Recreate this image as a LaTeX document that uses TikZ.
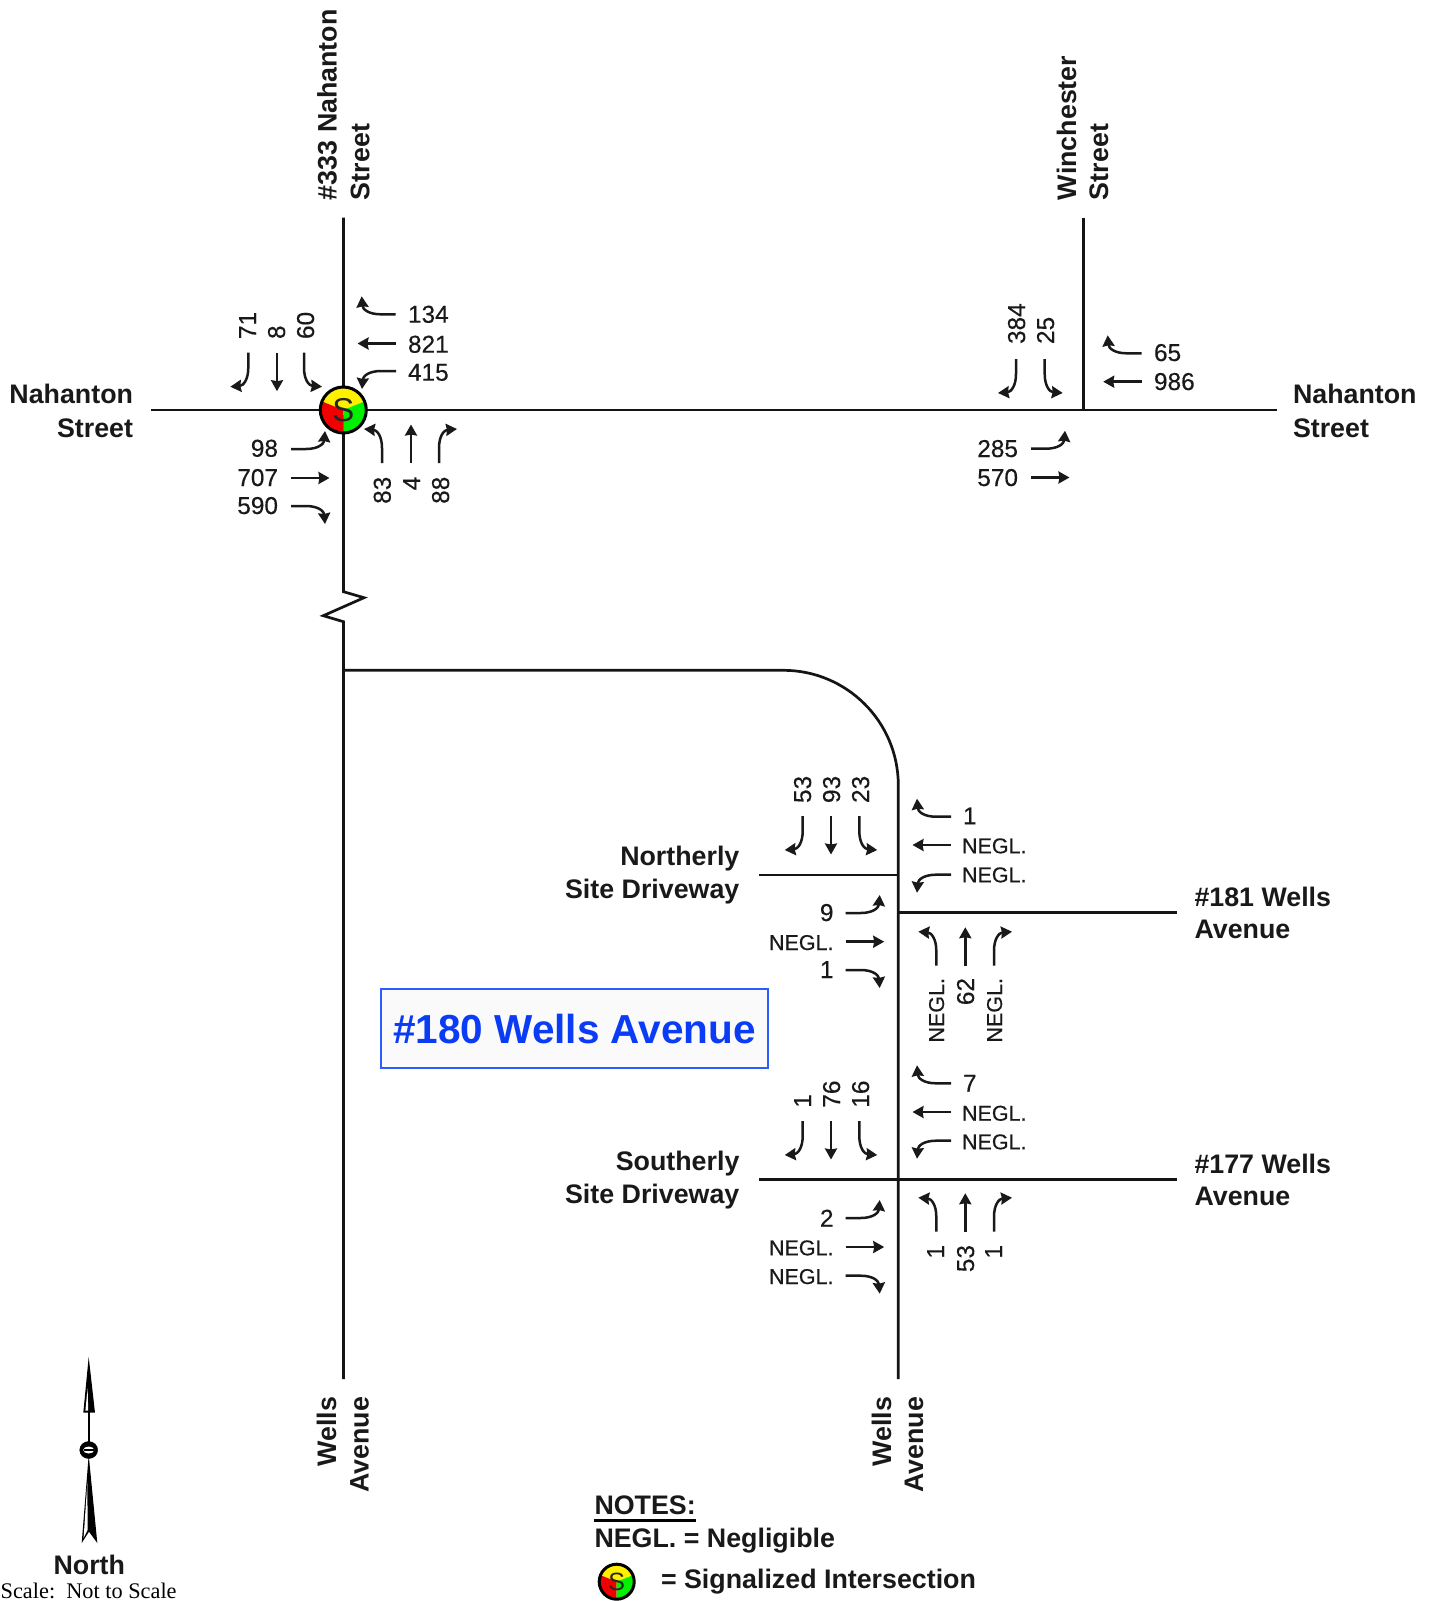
\documentclass[tikz,border=0pt]{standalone}
\usepackage{fontspec}
\setmainfont{Liberation Sans}
\newfontfamily\scalefamily{Liberation Serif}
\newfontfamily\volfamily[FakeBold=0.35]{Liberation Sans}
\usetikzlibrary{arrows.meta}
\definecolor{boxblue}{HTML}{2A5CFF}
\definecolor{textblue}{HTML}{0A3CF5}
\definecolor{sigred}{HTML}{F20000}
\definecolor{siggreen}{HTML}{00F000}
\definecolor{sigyellow}{HTML}{FFF000}
\tikzset{
  road/.style={line width=2.7pt,draw=black!92},
  flow/.style={line width=2.5pt,draw=black!90,-{Stealth[length=11pt,width=12pt,inset=1pt]}},
  vol/.style={inner sep=0pt,outer sep=0pt,font=\volfamily\fontsize{24.4}{28}\selectfont,text=black!90},
  neg/.style={inner sep=0pt,outer sep=0pt,font=\volfamily\fontsize{21.5}{26}\selectfont,text=black!90},
  volw/.style={vol,anchor=base west},
  vole/.style={vol,anchor=base east},
  volu/.style={vol,rotate=90,anchor=base west},
  vold/.style={vol,rotate=90,anchor=base east},
  negw/.style={neg,anchor=base west},
  nege/.style={neg,anchor=base east},
  negd/.style={neg,rotate=90,anchor=base east},
  rdname/.style={inner sep=0pt,outer sep=0pt,font=\fontsize{26.8}{30}\bfseries\selectfont,text=black!90},
  namew/.style={rdname,anchor=base west},
  namee/.style={rdname,anchor=base east},
  nameu/.style={rdname,rotate=90,anchor=base west},
  named/.style={rdname,rotate=90,anchor=base east},
  signal/.style={circle,draw=black,line width=3pt,minimum size=2*#1,inner sep=0pt,text=black!85},
  pics/sigface/.style={code={
    \begin{scope}[x=#1pt,y=#1pt]
      \clip (0,0) circle[radius=1.02];
      \fill[sigyellow] (-1.3,-.2) rectangle (1.3,1.3);
      \fill[sigred] (0,-1.3) -- (0,0) -- (-1.3,.52) -- (-1.3,-1.3) -- cycle;
      \fill[siggreen] (0,-1.3) -- (0,0) -- (1.3,.52) -- (1.3,-1.3) -- cycle;
    \end{scope}}},
  pics/mvthru/.style={code={\draw[flow] (0,0) -- (38.5,0);}},
  pics/mvleft/.style={code={\draw[flow] (0,0) -- (15,0) .. controls (27,0) and (33,5) .. (34,18);}},
  pics/mvright/.style={code={\draw[flow] (0,0) -- (15,0) .. controls (27,0) and (33,-5) .. (34,-18);}},
}
\begin{document}
\begin{tikzpicture}[x=1pt,y=1pt]
\useasboundingbox[fill=white] (0,0) rectangle (1436,-1601);
% road end points
\coordinate (nahW) at (151,-410);
\coordinate (nahE) at (1277,-410);
\coordinate (wellsN) at (343.5,-217.5);
\coordinate (wellsS) at (343.5,-1379);
\coordinate (brkA) at (343.5,-591.7);
\coordinate (brkB) at (364,-597.7);
\coordinate (brkC) at (323.3,-615.7);
\coordinate (brkD) at (343.5,-621.7);
\coordinate (winN) at (1083.3,-217.5);
\coordinate (winS) at (1083.3,-410);
\coordinate (loopW) at (343.5,-670.3);
\coordinate (loopC) at (783.3,-670.3);
\coordinate (loopS) at (898.3,-1379);
\coordinate (ndW) at (759,-875);
\coordinate (ndE) at (898.3,-875);
\coordinate (n181W) at (898.3,-912.7);
\coordinate (n181E) at (1176.5,-912.7);
\coordinate (sdW) at (759,-1179.3);
\coordinate (sdE) at (1176.5,-1179.3);
\draw[road] (nahW) -- (nahE);
\draw[road] (wellsN) -- (brkA) -- (brkB) -- (brkC) -- (brkD) -- (wellsS);
\draw[road] (winN) -- (winS);
\draw[road] (loopW) -- (loopC) arc[start angle=90,end angle=0,radius=115] -- (loopS);
\draw[road] (ndW) -- (ndE);
\draw[road] (n181W) -- (n181E);
\draw[road] (sdW) -- (sdE);
% signal
\pic at (343.3,-410) {sigface=23};
\node[signal=23,font=\fontsize{33}{36}\selectfont] (sig) at (343.3,-410) {S};
% road names
\node[nameu] (t1) at (336.7,-200) {\#333 Nahanton};
\node[nameu] (t2) at (369.3,-200) {Street};
\node[nameu] (t3) at (1076,-200) {Winchester};
\node[nameu] (t4) at (1108,-200) {Street};
\node[namee] (t5) at (133,-403.5) {Nahanton};
\node[namee] (t6) at (133,-437) {Street};
\node[namew] (t7) at (1293,-403.5) {Nahanton};
\node[namew] (t8) at (1293,-437) {Street};
\node[named] (t9) at (336,-1397) {Wells};
\node[named] (t10) at (368.5,-1397) {Avenue};
\node[named] (t11) at (891,-1397) {Wells};
\node[named] (t12) at (923,-1397) {Avenue};
\node[namee] (t13) at (739.4,-865) {Northerly};
\node[namee] (t14) at (739.4,-898) {Site Driveway};
\node[namew] (t15) at (1194.5,-906) {\#181 Wells};
\node[namew] (t16) at (1194.5,-938) {Avenue};
\node[namee] (t17) at (739.4,-1170.4) {Southerly};
\node[namee] (t18) at (739.4,-1203) {Site Driveway};
\node[namew] (t19) at (1194.5,-1173.5) {\#177 Wells};
\node[namew] (t20) at (1194.5,-1205.5) {Avenue};
% site box
\node[draw=boxblue,fill=black!2,line width=1.8pt,minimum width=386.4pt,minimum height=79.3pt,inner sep=0pt,
  font=\fontsize{40.5}{44}\bfseries\selectfont,text=textblue] (site) at (574.5,-1028.7) {\#180 Wells Avenue};
% intersection 1
\pic[rotate=180] at (395.7,-314.3) {mvright};
\pic[rotate=180] at (396,-343.5) {mvthru};
\pic[rotate=180] at (396,-371) {mvleft};
\pic[rotate=-90] at (248.3,-352.7) {mvright};
\pic[rotate=-90] at (277,-352.7) {mvthru};
\pic[rotate=-90] at (304,-352.7) {mvleft};
\pic at (291,-449) {mvleft};
\pic at (291,-478) {mvthru};
\pic at (291,-506) {mvright};
\pic[rotate=90] at (382,-463) {mvleft};
\pic[rotate=90] at (411,-463) {mvthru};
\pic[rotate=90] at (439,-463) {mvright};
\node[volw] (a1) at (408,-322.7) {134};
\node[volw] (a2) at (408,-352.7) {821};
\node[volw] (a3) at (408,-380.7) {415};
\node[volu] (a4) at (256,-339) {71};
\node[volu] (a5) at (285,-339) {8};
\node[volu] (a6) at (314,-339) {60};
\node[vole] (a7) at (278,-456.7) {98};
\node[vole] (a8) at (278,-486) {707};
\node[vole] (a9) at (278,-514) {590};
\node[vold] (a10) at (390.7,-476.7) {83};
\node[vold] (a11) at (420,-476.7) {4};
\node[vold] (a12) at (449,-476.7) {88};
% intersection 2
\pic[rotate=-90] at (1016,-359) {mvright};
\pic[rotate=-90] at (1044.7,-359) {mvleft};
\pic[rotate=180] at (1141.7,-353.3) {mvright};
\pic[rotate=180] at (1141.7,-381.7) {mvthru};
\pic at (1031,-448.7) {mvleft};
\pic at (1031,-477.5) {mvthru};
\node[volu] (b1) at (1025,-344) {384};
\node[volu] (b2) at (1054,-344) {25};
\node[volw] (b3) at (1154,-361) {65};
\node[volw] (b4) at (1154,-390) {986};
\node[vole] (b5) at (1018,-457) {285};
\node[vole] (b6) at (1018,-486) {570};
% intersection 3
\pic[rotate=-90] at (802.7,-816) {mvright};
\pic[rotate=-90] at (831,-816) {mvthru};
\pic[rotate=-90] at (859.3,-816) {mvleft};
\pic[rotate=180] at (951,-816.7) {mvright};
\pic[rotate=180] at (951,-845) {mvthru};
\pic[rotate=180] at (951,-874.7) {mvleft};
\pic at (845.7,-913) {mvleft};
\pic at (845.7,-941.7) {mvthru};
\pic at (845.7,-970) {mvright};
\pic[rotate=90] at (936.3,-965.7) {mvleft};
\pic[rotate=90] at (965.3,-965.7) {mvthru};
\pic[rotate=90] at (994,-965.7) {mvright};
\node[volu] (c1) at (811,-803) {53};
\node[volu] (c2) at (840,-803) {93};
\node[volu] (c3) at (869,-803) {23};
\node[volw] (c4) at (963,-824.3) {1};
\node[negw] (c5) at (962,-853.3) {NEGL.};
\node[negw] (c6) at (962,-882.3) {NEGL.};
\node[vole] (c7) at (833.5,-921) {9};
\node[nege] (c8) at (833.5,-950) {NEGL.};
\node[vole] (c9) at (833.5,-978) {1};
\node[negd] (c10) at (944,-978) {NEGL.};
\node[vold] (c11) at (974,-978) {62};
\node[negd] (c12) at (1002,-978) {NEGL.};
% intersection 4
\pic[rotate=-90] at (802.7,-1121) {mvright};
\pic[rotate=-90] at (831,-1121) {mvthru};
\pic[rotate=-90] at (859.3,-1121) {mvleft};
\pic[rotate=180] at (951,-1083.3) {mvright};
\pic[rotate=180] at (951,-1112) {mvthru};
\pic[rotate=180] at (951,-1140.7) {mvleft};
\pic at (845.7,-1218) {mvleft};
\pic at (845.7,-1247) {mvthru};
\pic at (845.7,-1275.7) {mvright};
\pic[rotate=90] at (936.3,-1231.7) {mvleft};
\pic[rotate=90] at (965.3,-1231.7) {mvthru};
\pic[rotate=90] at (994,-1231.7) {mvright};
\node[volu] (d1) at (811,-1107.7) {1};
\node[volu] (d2) at (840,-1107.7) {76};
\node[volu] (d3) at (869,-1107.7) {16};
\node[volw] (d4) at (963,-1091.7) {7};
\node[negw] (d5) at (962,-1120.7) {NEGL.};
\node[negw] (d6) at (962,-1149.3) {NEGL.};
\node[vole] (d7) at (833.5,-1226.7) {2};
\node[nege] (d8) at (833.5,-1255.3) {NEGL.};
\node[nege] (d9) at (833.5,-1284) {NEGL.};
\node[vold] (d10) at (944,-1245) {1};
\node[vold] (d11) at (974,-1245) {53};
\node[vold] (d12) at (1002,-1245) {1};
% north arrow
\fill[black] (88.7,-1357) -- (95,-1412.7) -- (83.3,-1412.7) -- cycle;
\fill[white] (87.6,-1388) -- (85.4,-1410.5) -- (88.2,-1410.5) -- cycle;
\draw[line width=2.4pt] (88.7,-1412) -- (88.7,-1450);
\fill[black] (88.7,-1455) -- (97.3,-1543) -- (89,-1531.7) -- (81.7,-1543) -- cycle;
\fill[white] (87.4,-1482) -- (83.6,-1538) -- (87.6,-1530) -- cycle;
\filldraw[fill=black,draw=black] (88.7,-1450) ellipse[x radius=9,y radius=8.5];
\fill[white] (88.7,-1450) ellipse[x radius=5.5,y radius=3.5];
\draw[line width=1.2pt] (83.5,-1450) -- (94,-1450);
\node[rdname,anchor=base] (north) at (89.3,-1574) {North};
\node[inner sep=0pt,anchor=base west,font=\scalefamily\fontsize{22.3}{24}\selectfont] (scale) at (0.5,-1598) {Scale:\ \ Not to Scale};
% notes
\node[namew] (n1) at (594.5,-1514.5) {NOTES:};
\coordinate (ulA) at (593.5,-1520.5);
\coordinate (ulB) at (696,-1520.5);
\draw[line width=2.2pt] (ulA) -- (ulB);
\node[namew] (n2) at (594.5,-1547.5) {NEGL. = Negligible};
\pic at (616.7,-1581.7) {sigface=17.5};
\node[signal=17.5,font=\fontsize{25}{28}\selectfont] (legsig) at (616.7,-1581.7) {S};
\node[namew] (n3) at (661,-1588) {= Signalized Intersection};
\end{tikzpicture}
\end{document}
